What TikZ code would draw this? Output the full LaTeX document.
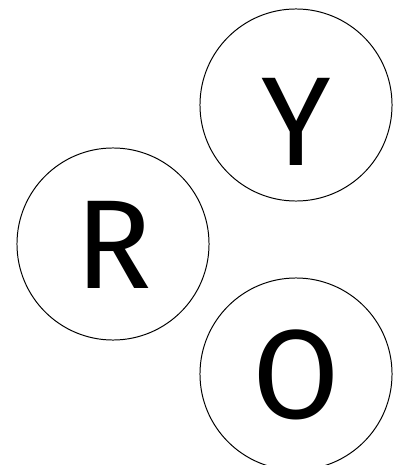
\documentclass[tikz,border=0pt]{standalone}
\usepackage{fontspec}
\setmainfont{Fira Sans}
\usepackage{tikz}
\tikzset{
  ball/.style  ={circle,draw,line width=0.7pt,minimum size=4.8cm,inner sep=0pt},
  letter/.style={inner sep=0pt,font=\fontsize{90}{94}\selectfont},
}
\begin{document}
\begin{tikzpicture}[x=0.025cm,y=-0.025cm]
  \useasboundingbox (0,0) rectangle (397,465);
  \node[ball] (y) at (296,105){};
  \node[ball] (r) at (113,244){};
  \node[ball] (o) at (296,374){};
  \node[letter] (ylab) at (296,122){Y};
  \node[letter] (rlab) at (114,245){R};
  \node[letter] (olab) at (296,375){O};
\end{tikzpicture}
\end{document}
